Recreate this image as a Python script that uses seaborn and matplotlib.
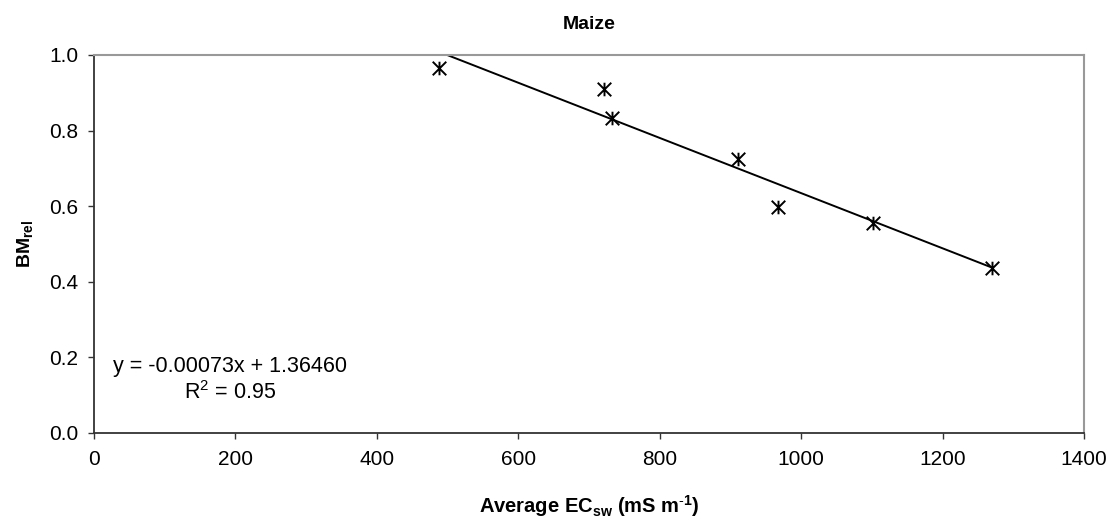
import matplotlib
matplotlib.use("Agg")
import matplotlib.pyplot as plt
from matplotlib.path import Path
import seaborn as sns
import numpy as np
import pandas as pd

# Data
ec_sw = [488, 721, 733, 911, 967, 1102, 1270]
bm_rel = [0.966, 0.910, 0.834, 0.725, 0.597, 0.556, 0.437]
slope = -0.00073
intercept = 1.36460
r2 = 0.95
x_ticks = [0, 200, 400, 600, 800, 1000, 1200, 1400]
y_ticks = [0.0, 0.2, 0.4, 0.6, 0.8, 1.0]

sns.set_theme(style="white")
plt.rcParams['font.family'] = ['Liberation Sans', 'DejaVu Sans']
plt.rcParams['mathtext.fontset'] = 'custom'
plt.rcParams['mathtext.rm'] = 'Liberation Sans'
plt.rcParams['mathtext.bf'] = 'Liberation Sans:bold'
plt.rcParams['text.color'] = 'black'
plt.rcParams['axes.labelcolor'] = 'black'
plt.rcParams['xtick.labelcolor'] = 'black'
plt.rcParams['ytick.labelcolor'] = 'black'

df = pd.DataFrame({"x": ec_sw, "y": bm_rel})

# Excel-style star marker: X plus vertical bar
star = Path([(0, -1), (0, 1), (-1, -1), (1, 1), (-1, 1), (1, -1)],
            [Path.MOVETO, Path.LINETO, Path.MOVETO, Path.LINETO, Path.MOVETO, Path.LINETO])

fig = plt.figure(figsize=(11.15, 5.22), dpi=100)
ax = fig.add_axes([94/1115, 1-433/522, (1084-94)/1115, (433-55)/522])

sns.scatterplot(data=df, x="x", y="y", ax=ax, marker=star, s=95,
                color="black", linewidth=1.4, edgecolor="black", zorder=3)

line_x = np.array([min(ec_sw), max(ec_sw)])
line_df = pd.DataFrame({"x": line_x, "y": slope * line_x + intercept})
sns.lineplot(data=line_df, x="x", y="y", ax=ax, color="black", linewidth=1.4)

ax.set_xlim(0, 1400)
ax.set_ylim(0, 1.0)
ax.set_xticks(x_ticks)
ax.set_yticks(y_ticks)
ax.set_xticklabels([str(t) for t in x_ticks], fontsize=15)
ax.set_yticklabels([f"{t:.1f}" for t in y_ticks], fontsize=15)
ax.tick_params(axis="x", direction="out", length=4.5, width=1, color="#333333",
               labelcolor="black", bottom=True, pad=8)
ax.tick_params(axis="y", direction="out", length=4.5, width=1, color="#333333",
               labelcolor="black", left=True, pad=7)

for side in ["left", "bottom"]:
    ax.spines[side].set_color("#333333")
    ax.spines[side].set_linewidth(1.3)
for side in ["top", "right"]:
    ax.spines[side].set_color("#999999")
    ax.spines[side].set_linewidth(1.5)
    ax.spines[side].set_visible(True)

ax.set_title("Maize", fontsize=14, fontweight="bold", pad=19, color="black")
ax.set_xlabel(r"Average EC$_{\mathbf{sw}}$ (mS m$^{\mathbf{\text{-}1}}$)", fontsize=14.5,
              fontweight="bold", labelpad=17, color="black")
ax.set_ylabel(r"BM$_{\mathbf{rel}}$", fontsize=14, fontweight="bold", labelpad=9,
              color="black")

ax.text(192, 0.175, f"y = {slope:.5f}x + {intercept:.5f}", fontsize=15.5,
        ha="center", va="center", color="black")
ax.text(192, 0.106, f"R$^2$ = {r2:.2f}", fontsize=15.5,
        ha="center", va="center", color="black")

fig.savefig("out.png", dpi=100)
